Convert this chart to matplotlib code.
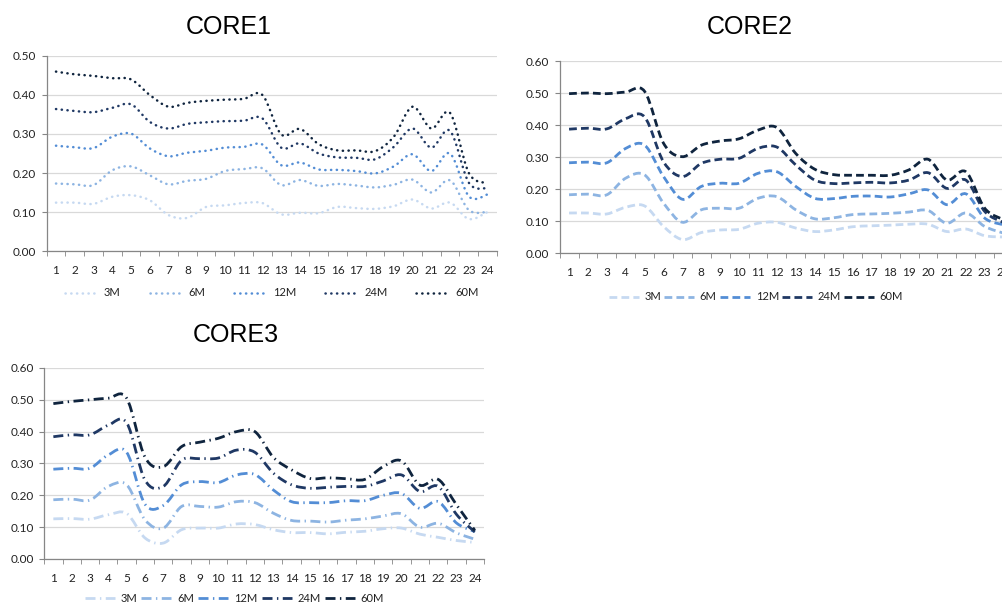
import matplotlib
matplotlib.use("Agg")
import matplotlib.pyplot as plt
from matplotlib.path import Path
from matplotlib.patches import PathPatch
from matplotlib.lines import Line2D
import numpy as np

plt.rcParams['font.family'] = ['Lato', 'DejaVu Sans']

months = list(range(1, 25))
series_names = ['3M', '6M', '12M', '24M', '60M']
colors = ['#c6d9f1', '#8db4e2', '#538dd5', '#1f3864', '#0f243e']

# CORE1 (dotted)
core1_3m = [0.124, 0.124, 0.121, 0.139, 0.143, 0.130, 0.092, 0.085, 0.113, 0.117, 0.123, 0.123,
            0.094, 0.098, 0.097, 0.113, 0.110, 0.108, 0.115, 0.132, 0.109, 0.124, 0.082, 0.100]
core1_6m = [0.173, 0.171, 0.169, 0.207, 0.217, 0.194, 0.171, 0.180, 0.185, 0.205, 0.210, 0.212,
            0.169, 0.182, 0.167, 0.172, 0.168, 0.163, 0.170, 0.183, 0.150, 0.181, 0.105, 0.100]
core1_12m = [0.270, 0.266, 0.264, 0.293, 0.301, 0.263, 0.243, 0.252, 0.257, 0.265, 0.267, 0.273,
             0.220, 0.227, 0.209, 0.208, 0.205, 0.199, 0.217, 0.248, 0.205, 0.250, 0.140, 0.145]
core1_24m = [0.364, 0.359, 0.356, 0.367, 0.376, 0.331, 0.314, 0.326, 0.330, 0.333, 0.334, 0.340,
             0.265, 0.276, 0.250, 0.240, 0.239, 0.235, 0.267, 0.314, 0.265, 0.308, 0.175, 0.161]
core1_60m = [0.460, 0.453, 0.449, 0.443, 0.440, 0.400, 0.370, 0.380, 0.385, 0.388, 0.390, 0.400,
             0.299, 0.313, 0.274, 0.258, 0.258, 0.256, 0.293, 0.370, 0.314, 0.354, 0.200, 0.174]

# CORE2 (dashed)
core2_3m = [0.125, 0.125, 0.122, 0.143, 0.147, 0.083, 0.042, 0.064, 0.072, 0.074, 0.093, 0.096,
            0.078, 0.067, 0.072, 0.082, 0.085, 0.087, 0.090, 0.090, 0.067, 0.075, 0.054, 0.050]
core2_6m = [0.182, 0.184, 0.182, 0.234, 0.244, 0.156, 0.096, 0.135, 0.140, 0.140, 0.171, 0.176,
            0.135, 0.107, 0.110, 0.120, 0.122, 0.124, 0.128, 0.133, 0.093, 0.125, 0.083, 0.062]
core2_12m = [0.282, 0.284, 0.282, 0.327, 0.337, 0.239, 0.168, 0.208, 0.218, 0.218, 0.249, 0.254,
             0.208, 0.171, 0.170, 0.177, 0.178, 0.175, 0.185, 0.197, 0.151, 0.185, 0.109, 0.088]
core2_24m = [0.387, 0.390, 0.388, 0.420, 0.425, 0.285, 0.239, 0.280, 0.293, 0.296, 0.327, 0.331,
             0.275, 0.228, 0.217, 0.219, 0.221, 0.219, 0.228, 0.251, 0.202, 0.228, 0.130, 0.095]
core2_60m = [0.498, 0.500, 0.498, 0.503, 0.505, 0.343, 0.301, 0.337, 0.350, 0.357, 0.384, 0.392,
             0.311, 0.262, 0.245, 0.243, 0.243, 0.243, 0.260, 0.293, 0.228, 0.254, 0.140, 0.104]

# CORE3 (dash-dot)
core3_3m = [0.126, 0.127, 0.125, 0.139, 0.143, 0.066, 0.050, 0.092, 0.097, 0.097, 0.110, 0.108,
            0.092, 0.083, 0.083, 0.079, 0.084, 0.087, 0.095, 0.097, 0.078, 0.068, 0.058, 0.052]
core3_6m = [0.186, 0.188, 0.185, 0.228, 0.233, 0.123, 0.097, 0.165, 0.165, 0.163, 0.180, 0.177,
            0.144, 0.121, 0.119, 0.116, 0.122, 0.126, 0.135, 0.142, 0.100, 0.112, 0.082, 0.062]
core3_12m = [0.282, 0.285, 0.285, 0.327, 0.335, 0.172, 0.168, 0.233, 0.243, 0.240, 0.264, 0.265,
             0.217, 0.180, 0.177, 0.177, 0.183, 0.183, 0.200, 0.206, 0.159, 0.180, 0.113, 0.086]
core3_24m = [0.384, 0.390, 0.390, 0.420, 0.428, 0.248, 0.228, 0.310, 0.315, 0.317, 0.342, 0.335,
             0.270, 0.233, 0.222, 0.225, 0.228, 0.228, 0.245, 0.264, 0.212, 0.228, 0.140, 0.085]
core3_60m = [0.488, 0.495, 0.500, 0.505, 0.505, 0.320, 0.290, 0.353, 0.367, 0.379, 0.400, 0.400,
             0.320, 0.280, 0.253, 0.255, 0.252, 0.250, 0.290, 0.308, 0.232, 0.250, 0.170, 0.090]

charts = [
    ('CORE1', [core1_3m, core1_6m, core1_12m, core1_24m, core1_60m]),
    ('CORE2', [core2_3m, core2_6m, core2_12m, core2_24m, core2_60m]),
    ('CORE3', [core3_3m, core3_6m, core3_12m, core3_24m, core3_60m]),
]


def smooth_path(x, y):
    # Excel-style smoothed line: cubic Bezier through the points
    n = len(x)
    verts = [(x[0], y[0])]
    codes = [Path.MOVETO]
    for i in range(n - 1):
        i0 = max(i - 1, 0)
        i3 = min(i + 2, n - 1)
        c1 = (x[i] + (x[i + 1] - x[i0]) / 6, y[i] + (y[i + 1] - y[i0]) / 6)
        c2 = (x[i + 1] - (x[i3] - x[i]) / 6, y[i + 1] - (y[i3] - y[i]) / 6)
        verts += [c1, c2, (x[i + 1], y[i + 1])]
        codes += [Path.CURVE4] * 3
    return Path(verts, codes)


fig = plt.figure(figsize=(10.02, 6.06), dpi=100)

# axes rectangles, legend placement, style per chart
layout = {
    'CORE1': dict(rect=[0.0465, 0.5858, 0.4495, 0.3218], ymax=0.5,
                  ls=(0, (0.1, 2.2)), lw=1.8, cap='round',
                  title_xy=(229, 27), leg=(0.5, -0.215), colsp=2.6, hl=3.0),
    'CORE2': dict(rect=[0.5585, 0.5825, 0.4525, 0.3168], ymax=0.6,
                  ls=(0, (2.8, 1.5)), lw=2.0, cap='butt',
                  title_xy=(750, 27), leg=(0.433, -0.229), colsp=0.3, hl=2.7),
    'CORE3': dict(rect=[0.0441, 0.0776, 0.4389, 0.3152], ymax=0.6,
                  ls=(0, (3.6, 1.6, 0.5, 1.6)), lw=2.0, cap='butt',
                  title_xy=(236, 335), leg=(0.432, -0.205), colsp=0.4, hl=2.7),
}

x = np.array(months, dtype=float)
for name, data in charts:
    cfg = layout[name]
    ax = fig.add_axes(cfg['rect'])
    for vals, col in zip(data, colors):
        patch = PathPatch(smooth_path(x, np.array(vals)), fill=False, edgecolor=col,
                          linewidth=cfg['lw'], linestyle=cfg['ls'], capstyle=cfg['cap'])
        ax.add_patch(patch)

    ax.set_xlim(0.5, 24.5)
    ax.set_ylim(0, cfg['ymax'])
    ax.set_yticks(np.arange(0, cfg['ymax'] + 0.001, 0.1))
    ax.set_yticklabels(['%.2f' % v for v in np.arange(0, cfg['ymax'] + 0.001, 0.1)])
    ax.set_xticks(months)
    ax.set_xticklabels([str(m) for m in months])
    ax.set_xticks(np.arange(0.5, 24.6, 1), minor=True)
    ax.tick_params(axis='x', which='major', length=0, pad=10, labelsize=8.5, colors='#222222')
    ax.tick_params(axis='x', which='minor', length=3.5, direction='out', color='#868686')
    ax.tick_params(axis='y', length=3.5, pad=4, labelsize=8.5, color='#868686', labelcolor='#222222')
    ax.grid(axis='y', color='#d9d9d9', linewidth=0.9)
    ax.set_axisbelow(True)
    for s in ['top', 'right']:
        ax.spines[s].set_visible(False)
    for s in ['left', 'bottom']:
        ax.spines[s].set_color('#868686')
        ax.spines[s].set_linewidth(0.9)

    handles = [Line2D([0], [0], color=c, lw=cfg['lw'], linestyle=cfg['ls'],
                      dash_capstyle=cfg['cap']) for c in colors]
    ax.legend(handles, series_names, loc='center', bbox_to_anchor=cfg['leg'], ncol=5,
              frameon=False, fontsize=8, handlelength=cfg['hl'], handletextpad=0.5,
              columnspacing=cfg['colsp'], labelcolor='#222222')

    tx, ty = cfg['title_xy']
    fig.text(tx / 1002, 1 - ty / 606, name, ha='center', va='center', fontsize=18,
             family='Liberation Sans', color='black')

fig.savefig('out.png', dpi=100)
